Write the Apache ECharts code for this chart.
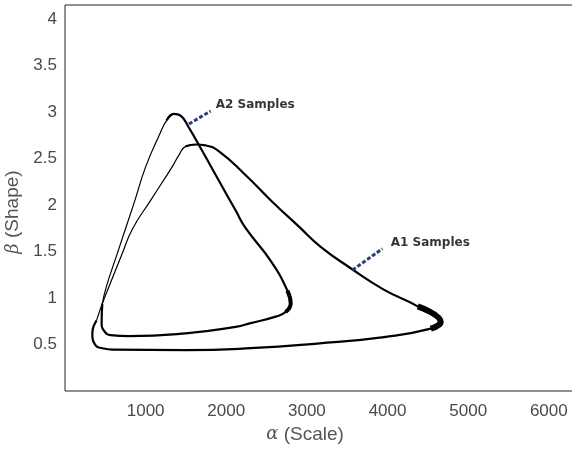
<!DOCTYPE html>
<html>
<head>
<meta charset="utf-8">
<script src="https://cdn.jsdelivr.net/npm/echarts@6/dist/echarts.min.js"></script>
<style>
  html, body { margin: 0; padding: 0; background: #fff; }
  #chart { width: 572px; height: 453px; }
</style>
</head>
<body>
<div id="chart"></div>
<script>
// A1 samples: closed loop, starting at the peak and going down the left leg
var a1Alpha = [1620, 1496, 1409, 1329, 1062, 835, 711, 545, 463, 392, 339, 380, 466, 587, 1496, 2303, 3130, 3957, 4536, 4660, 4375, 3953, 3543, 3171, 2898, 2576, 2241, 1906, 1744, 1620];
var a1Beta = [2.65, 2.63, 2.53, 2.41, 2.05, 1.74, 1.48, 1.12, 0.94, 0.76, 0.62, 0.49, 0.46, 0.445, 0.44, 0.46, 0.51, 0.58, 0.67, 0.74, 0.91, 1.09, 1.32, 1.55, 1.77, 2.03, 2.32, 2.58, 2.64, 2.65];
// A2 samples: closed loop, same ordering
var a2Alpha = [1351, 1261, 1174, 1000, 867, 764, 649, 512, 463, 454, 491, 566, 793, 1496, 2117, 2303, 2613, 2737, 2799, 2758, 2551, 2241, 2117, 1909, 1703, 1537, 1434, 1351];
var a2Beta = [2.98, 2.91, 2.76, 2.41, 2.05, 1.78, 1.48, 1.12, 0.94, 0.73, 0.64, 0.60, 0.59, 0.62, 0.69, 0.73, 0.80, 0.85, 0.94, 1.08, 1.40, 1.75, 1.94, 2.26, 2.58, 2.83, 2.96, 2.98];

// annotation labels and leader lines (data space)
var labelNames = ['A2 Samples', 'A1 Samples'];
var labelAlpha = [1869, 4040];
var labelBeta = [3.08, 1.59];
var leaderA2 = [[1537, 2.87], [1806, 3.01]];
var leaderA1 = [[3565, 1.30], [3937, 1.53]];

var xTicks = [1000, 2000, 3000, 4000, 5000, 6000];
var yTicks = [0.5, 1, 1.5, 2, 2.5, 3, 3.5, 4];

function zip(xs, ys) {
    return xs.map(function (x, i) { return [x, ys[i]]; });
}
var a1 = zip(a1Alpha, a1Beta);
var a2 = zip(a2Alpha, a2Beta);

var chart = echarts.init(document.getElementById('chart'));

function loop(name, pts, width) {
    return {
        name: name,
        type: 'line',
        data: pts,
        smooth: 0.5,
        showSymbol: false,
        symbol: 'none',
        silent: true,
        lineStyle: { color: '#000', width: width }
    };
}

var labelFont = 'Arial';

var option = {
    animation: false,
    backgroundColor: '#fff',
    grid: {
        left: 65,
        top: 5,
        right: -1,
        bottom: 62,
        outerBoundsMode: 'none',
        containLabel: false,
        show: true,
        borderColor: '#222',
        borderWidth: 1
    },
    xAxis: {
        type: 'value',
        min: 0,
        max: 6300,
        interval: 1000,
        name: '{g|α} (Scale)',
        nameLocation: 'middle',
        nameGap: 32,
        nameTextStyle: {
            fontFamily: labelFont,
            fontSize: 19,
            color: '#555',
            padding: [0, 28, 0, 0],
            rich: {
                g: { fontFamily: '"DejaVu Serif", serif', fontStyle: 'italic', fontSize: 18, color: '#555' }
            }
        },
        axisLine: { show: false },
        axisTick: { show: false },
        splitLine: { show: false },
        axisLabel: {
            margin: 12,
            fontFamily: labelFont,
            fontSize: 17,
            color: '#4a4a4a',
            showMinLabel: false,
            showMaxLabel: false,
            formatter: function (v) { return xTicks.indexOf(v) >= 0 ? String(v) : ''; }
        }
    },
    yAxis: {
        type: 'value',
        min: 0,
        max: 4.15,
        interval: 0.5,
        name: '{g|β} (Shape)',
        nameLocation: 'middle',
        nameGap: 27,
        nameTextStyle: {
            fontFamily: labelFont,
            fontSize: 19,
            color: '#555',
            padding: [0, 28, 0, 0],
            rich: {
                g: { fontFamily: '"DejaVu Serif", serif', fontStyle: 'italic', fontSize: 18, color: '#555' }
            }
        },
        axisLine: { show: false },
        axisTick: { show: false },
        splitLine: { show: false },
        axisLabel: {
            margin: 8,
            fontFamily: labelFont,
            fontSize: 17,
            color: '#4a4a4a',
            showMinLabel: false,
            showMaxLabel: false,
            formatter: function (v) { return yTicks.indexOf(v) >= 0 ? String(v) : ''; }
        }
    },
    series: [
        // thin left legs
        loop('A1 left', a1.slice(0, 10), 1.2),
        loop('A2 left', a2.slice(0, 9), 1.2),
        // thicker rest of each loop
        loop('A1', a1.slice(9).concat(a1.slice(1, 2)), 2.2),
        loop('A2', a2.slice(8).concat(a2.slice(1, 2)), 2.2),
        // dense sample bands near the tips
        loop('A1 tip', a1.slice(18, 21), 6),
        loop('A2 tip', a2.slice(17, 20), 4),
        {
            type: 'line',
            data: leaderA2,
            showSymbol: false,
            symbol: 'none',
            silent: true,
            lineStyle: { color: '#2c3b7c', width: 3, type: [4, 2] }
        },
        {
            type: 'line',
            data: leaderA1,
            showSymbol: false,
            symbol: 'none',
            silent: true,
            lineStyle: { color: '#2c3b7c', width: 3, type: [4, 2] }
        },
        {
            type: 'scatter',
            symbolSize: 0,
            silent: true,
            data: labelNames.map(function (n, i) {
                return { name: n, value: [labelAlpha[i], labelBeta[i]] };
            }),
            label: {
                show: true,
                position: 'right',
                distance: 0,
                formatter: '{b}',
                fontFamily: '"DejaVu Sans", Verdana, sans-serif',
                fontWeight: 'bold',
                fontSize: 12,
                color: '#000'
            }
        }
    ]
};
chart.setOption(option);
</script>
</body>
</html>
